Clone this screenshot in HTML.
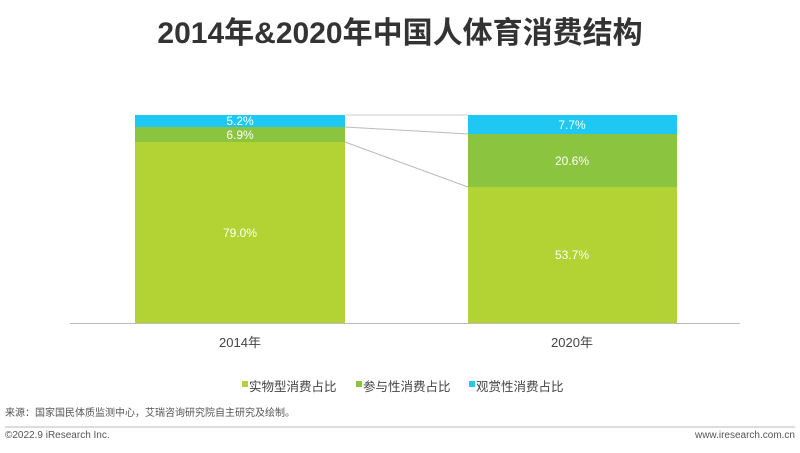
<!DOCTYPE html>
<html><head><meta charset="utf-8"><style>
body{margin:0;width:800px;height:453px;background:#fff;position:relative;overflow:hidden;font-family:"Liberation Sans","Noto Sans CJK SC",sans-serif}
.t{position:absolute;white-space:nowrap}
</style></head><body>
<div class="t" style="left:0;width:800px;text-align:center;top:8px;font-size:30px;font-weight:bold;color:#333">2014年&amp;2020年中国人体育消费结构</div>
<svg width="800" height="453" style="position:absolute;left:0;top:0">
<line x1="345" y1="115" x2="468" y2="115" stroke="#ddd" stroke-width="1.5"/>
<line x1="345" y1="127" x2="468" y2="134" stroke="#bbb" stroke-width="1"/>
<line x1="345" y1="142" x2="468" y2="187" stroke="#bbb" stroke-width="1"/>
<rect x="135" y="115" width="210" height="12" fill="#1ec8f2"/>
<rect x="135" y="127" width="210" height="15" fill="#8bc53f"/>
<rect x="135" y="142" width="210" height="181" fill="#b3d334"/>
<rect x="468" y="115" width="209" height="19" fill="#1ec8f2"/>
<rect x="468" y="134" width="209" height="53" fill="#8bc53f"/>
<rect x="468" y="187" width="209" height="136" fill="#b3d334"/>
<line x1="70" y1="323.5" x2="740" y2="323.5" stroke="#bbb" stroke-width="1"/>
<g fill="#fff" font-size="12" text-anchor="middle" font-family="Liberation Sans,sans-serif">
<text x="240" y="125">5.2%</text><text x="240" y="139">6.9%</text><text x="240" y="237">79.0%</text>
<text x="572" y="129">7.7%</text><text x="572" y="165">20.6%</text><text x="572" y="259">53.7%</text>
</g>
<g fill="#444" font-size="13" text-anchor="middle" font-family="Liberation Sans,Noto Sans CJK SC,sans-serif">
<text x="240" y="347">2014年</text><text x="572" y="347">2020年</text>
</g>
<rect x="242" y="381" width="6" height="6" fill="#b3d334"/>
<rect x="356" y="381" width="6" height="6" fill="#8bc53f"/>
<rect x="469" y="381" width="6" height="6" fill="#1ec8f2"/>
<line x1="5" y1="427" x2="795" y2="427" stroke="#bbb" stroke-width="1"/>
</svg>
<div class="t" style="left:249px;top:376px;font-size:12.5px;color:#444">实物型消费占比</div>
<div class="t" style="left:363px;top:376px;font-size:12.5px;color:#444">参与性消费占比</div>
<div class="t" style="left:476px;top:376px;font-size:12.5px;color:#444">观赏性消费占比</div>
<div class="t" style="left:5px;top:404px;font-size:10px;color:#555">来源：国家国民体质监测中心，艾瑞咨询研究院自主研究及绘制。</div>
<div class="t" style="left:5px;top:430px;font-size:10px;color:#555">©2022.9 iResearch Inc.</div>
<div class="t" style="right:5px;top:430px;font-size:10px;color:#555">www.iresearch.com.cn</div>
</body></html>
